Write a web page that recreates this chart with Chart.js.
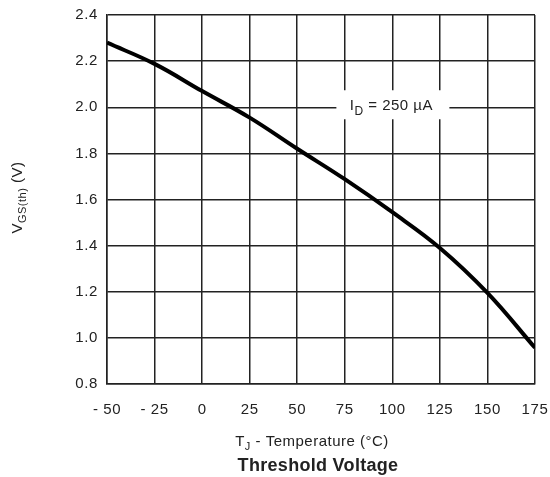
<!DOCTYPE html>
<html>
<head>
<meta charset="utf-8">
<script src="https://cdn.jsdelivr.net/npm/chart.js@4"></script>
<style>
  html, body { margin: 0; padding: 0; background: #fff; }
  #wrap { width: 550px; height: 477px; }
</style>
</head>
<body>
<div id="wrap"><canvas id="vth-chart"></canvas></div>
<script>
// Gate threshold voltage vs junction temperature, ID = 250 uA
const temps = [-50, -25, 0, 25, 50, 75, 100, 125, 150, 175];
const vth = [2.28, 2.188, 2.07, 1.955, 1.82, 1.688, 1.545, 1.39, 1.195, 0.957];
const xTicks = ['- 50', '- 25', '0', '25', '50', '75', '100', '125', '150', '175'];
const yTicks = [0.8, 1.0, 1.2, 1.4, 1.6, 1.8, 2.0, 2.2, 2.4];

const FONT = '"Liberation Sans", Arial, sans-serif';
const INK = '#222';

// text with a subscript part, e.g. V + GS(th)
function subText(ctx, parts, x, y, align) {
  const widths = parts.map(p => { ctx.font = p.font; return ctx.measureText(p.t).width; });
  const total = widths.reduce((a, b) => a + b, 0);
  let cx = align === 'center' ? x - total / 2 : x;
  parts.forEach((p, i) => {
    ctx.font = p.font;
    ctx.fillText(p.t, cx, y + (p.dy || 0));
    cx += widths[i];
  });
  return total;
}

const labels = {
  id: 'labels',
  beforeDraw(chart) {
    // the datasheet face is set a little wider than Arial
    chart.ctx.letterSpacing = '0.6px';
  },
  afterDraw(chart) {
    const { ctx, chartArea, scales } = chart;
    ctx.save();
    ctx.letterSpacing = '0.5px';
    ctx.fillStyle = INK;
    ctx.textBaseline = 'middle';
    ctx.textAlign = 'left';

    // condition label on the grid, with a white patch behind it
    const lx = scales.x.getPixelForValue(99.5);
    const ly = scales.y.getPixelForValue(2.0) - 1;
    ctx.fillStyle = '#fff';
    ctx.fillRect(lx - 55, ly - 16, 113, 29);
    ctx.fillStyle = INK;
    subText(ctx, [
      { t: 'I', font: '15px ' + FONT },
      { t: 'D', font: '12px ' + FONT, dy: 5 },
      { t: ' = 250 \u00b5A', font: '15px ' + FONT }
    ], lx, ly, 'center');

    // y-axis title
    ctx.save();
    ctx.translate(18, (chartArea.top + chartArea.bottom) / 2 - 2);
    ctx.rotate(-Math.PI / 2);
    subText(ctx, [
      { t: 'V', font: '15px ' + FONT },
      { t: 'GS(th)', font: '11px ' + FONT, dy: 5 },
      { t: ' (V)', font: '15px ' + FONT }
    ], 0, 0, 'center');
    ctx.restore();

    // x-axis title and caption
    const cx = (chartArea.left + chartArea.right) / 2;
    subText(ctx, [
      { t: 'T', font: '15px ' + FONT },
      { t: 'J', font: '11px ' + FONT, dy: 5 },
      { t: ' - Temperature (\u00b0C)', font: '15px ' + FONT }
    ], cx - 9, 442, 'center');
    ctx.letterSpacing = '0.3px';
    ctx.font = 'bold 18px ' + FONT;
    ctx.textAlign = 'center';
    ctx.fillText('Threshold Voltage', cx - 3, 466);
    ctx.restore();
  }
};

new Chart(document.getElementById('vth-chart'), {
  type: 'line',
  data: {
    datasets: [{
      data: temps.map((t, i) => ({ x: t, y: vth[i] })),
      borderColor: '#000',
      borderWidth: 4,
      pointRadius: 0,
      tension: 0.4,
      fill: false
    }]
  },
  options: {
    responsive: true,
    maintainAspectRatio: false,
    animation: false,
    layout: { padding: { top: 15, right: 15, left: 0, bottom: 0 } },
    plugins: { legend: { display: false }, tooltip: { enabled: false } },
    scales: {
      x: {
        type: 'linear',
        min: -50, max: 175,
        afterBuildTicks(scale) { scale.ticks = temps.map(v => ({ value: v })); },
        afterFit(scale) {
          scale.height = 93;
          scale.paddingLeft = 0;
          scale.paddingRight = 0;
        },
        grid: { color: INK, lineWidth: 1.5, drawTicks: false },
        border: { color: INK, width: 1.5 },
        ticks: {
          padding: 17,
          color: INK,
          font: { family: FONT, size: 15 },
          maxRotation: 0,
          callback: (v) => xTicks[temps.indexOf(v)]
        }
      },
      y: {
        min: 0.8, max: 2.4,
        afterBuildTicks(scale) { scale.ticks = yTicks.map(v => ({ value: v })); },
        afterFit(scale) {
          scale.width = 107;
          scale.paddingTop = 0;
          scale.paddingBottom = 0;
        },
        grid: { color: INK, lineWidth: 1.5, drawTicks: false },
        border: { color: INK, width: 1.5 },
        ticks: {
          padding: 9,
          color: INK,
          font: { family: FONT, size: 15 },
          callback: (v) => v.toFixed(1)
        }
      }
    }
  },
  plugins: [labels]
});
</script>
</body>
</html>
